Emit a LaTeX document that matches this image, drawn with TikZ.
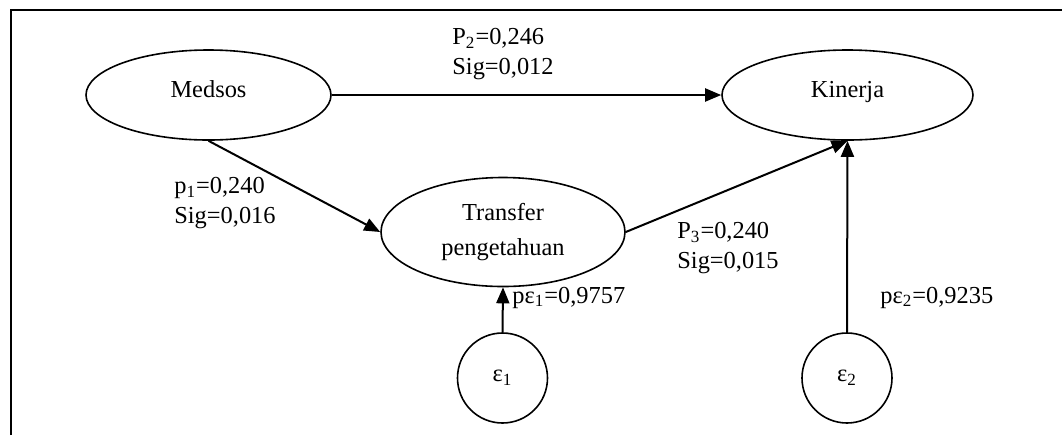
\documentclass[tikz,border=0pt]{standalone}
\usepackage{fontspec}
\setmainfont{Liberation Serif}
\usetikzlibrary{shapes.geometric,arrows.meta}
\begin{document}
\begin{tikzpicture}[x=0.5pt,y=-0.5pt,
  every node/.style={font=\fontsize{12.2}{15}\selectfont},
  oval/.style={draw,ellipse,line width=0.8pt,inner sep=0pt},
  errc/.style={draw,circle,line width=0.8pt,minimum size=45pt,inner sep=0pt},
  conn/.style={line width=1pt,-{Triangle[length=8pt,width=6.5pt]}},
  lbl/.style={inner sep=0pt,align=left}]
\useasboundingbox (0,0) rectangle (1062,435);
\draw[line width=1pt] (11,435) -- (11,10) -- (1062,10);

\node[oval,minimum width=122.5pt,minimum height=45pt,text height=8.5pt,text depth=6.5pt] (m) at (208.5,95) {Medsos};
\node[oval,minimum width=125.5pt,minimum height=45pt,text height=8.5pt,text depth=6.5pt] (k) at (847.5,95) {Kinerja};
\node[oval,minimum width=122pt,minimum height=54.5pt,align=center] (t) at (503,232) {Transfer\\[2.5pt]pengetahuan};
\node[errc] (e1) at (502.5,378) {ε\textsubscript{1}};
\node[errc] (e2) at (847,378) {ε\textsubscript{2}};

\draw[conn] (m.east) -- (k.west);
\draw[conn] (m.south) -- (t.west);
\draw[conn] (t.east) -- (k.south);
\draw[conn] (e2.north) -- (k.south);
\draw[conn] (e1.north) -- (t.south);

\node[lbl,anchor=north west] (l2) at (452,28) {P\textsubscript{2}=0,246\\Sig=0,012};
\node[lbl,anchor=north west] (l1) at (174,177) {p\textsubscript{1}=0,240\\Sig=0,016};
\node[lbl,anchor=north west] (l3) at (677,222) {P\textsubscript{3}=0,240\\Sig=0,015};
\node[lbl,anchor=base west] (le1) at (512,303) {pε\textsubscript{1}=0,9757};
\node[lbl,anchor=base west] (le2) at (880,303) {pε\textsubscript{2}=0,9235};
\end{tikzpicture}
\end{document}
